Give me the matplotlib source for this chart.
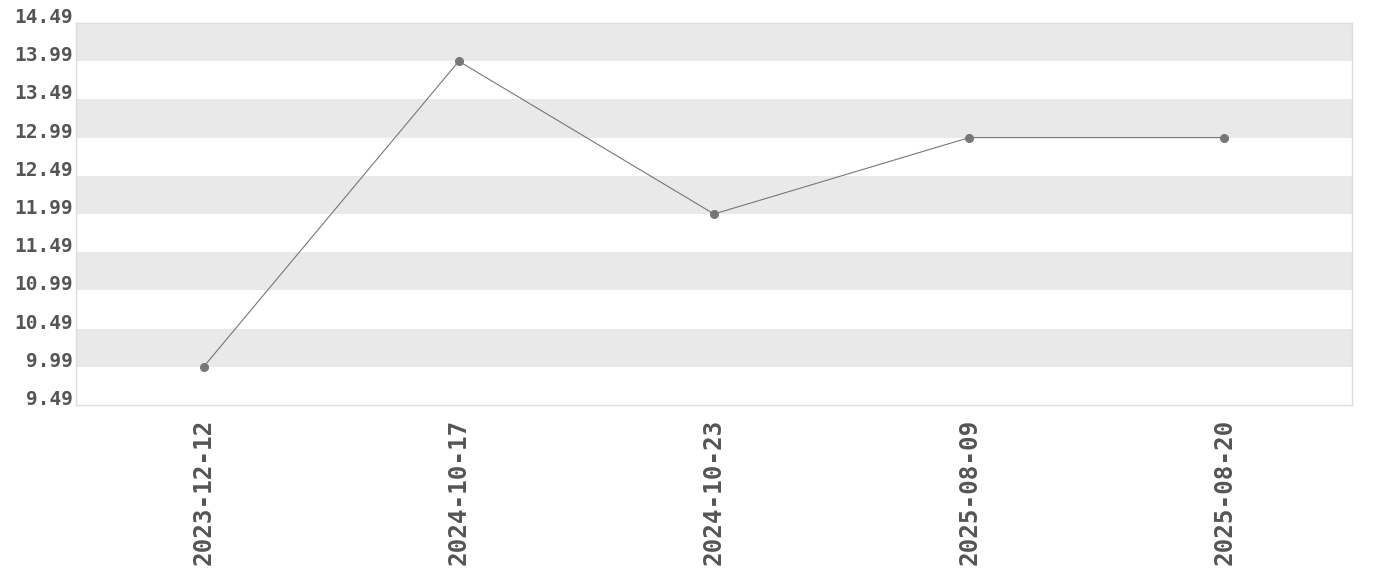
import matplotlib.pyplot as plt
import matplotlib.transforms as mtransforms
import numpy as np

# data
dates = ['2023-12-12', '2024-10-17', '2024-10-23', '2025-08-09', '2025-08-20']
prices = [9.99, 13.99, 11.99, 12.99, 12.99]
y_ticks = [9.49, 9.99, 10.49, 10.99, 11.49, 11.99, 12.49, 12.99, 13.49, 13.99, 14.49]

TXT = '#555555'
LINE = '#777777'
BAND = '#e9e9e9'
EDGE = '#dddddd'


def main():
    fig = plt.figure(figsize=(13.8, 5.8), dpi=100)
    ax = fig.add_axes([76 / 1380, 1 - 405 / 580, 1276 / 1380, 382 / 580])

    # alternating grey bands, top band grey
    for i in range(len(y_ticks) - 1, 0, -2):
        ax.axhspan(y_ticks[i - 1], y_ticks[i], color=BAND, lw=0, zorder=0)

    x = np.arange(len(dates))
    ax.plot(x, prices, color=LINE, lw=0.8, marker='o', ms=5.5,
            markerfacecolor=LINE, markeredgecolor=LINE, zorder=3)

    ax.set_xlim(-0.5, len(dates) - 0.5)
    ax.set_ylim(y_ticks[0], y_ticks[-1])
    ax.set_yticks(y_ticks)
    ax.set_yticklabels(['%.2f' % t for t in y_ticks])
    ax.set_xticks(x)
    ax.set_xticklabels(dates, rotation=90)

    ax.tick_params(length=0)
    ax.tick_params(axis='y', pad=2, labelcolor=TXT, labelsize=14)
    ax.tick_params(axis='x', pad=10, labelcolor=TXT, labelsize=17.5)
    for lab in ax.get_yticklabels() + ax.get_xticklabels():
        lab.set_family('DejaVu Sans Mono')
        lab.set_fontweight('bold')
    # lift the y labels a bit above their tick value
    off = mtransforms.ScaledTranslation(0, 7.5 / 100, fig.dpi_scale_trans)
    for lab in ax.get_yticklabels():
        lab.set_transform(lab.get_transform() + off)

    for s in ax.spines.values():
        s.set_color(EDGE)
        s.set_linewidth(1)

    plt.savefig('out.png', dpi=100)
    plt.clf()
    return


if __name__ == "__main__":
    main()
